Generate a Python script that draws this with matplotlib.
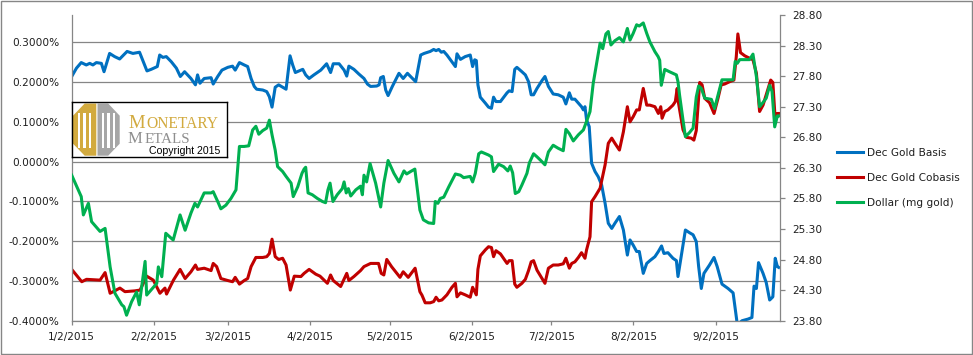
import numpy as np
import pandas as pd
import matplotlib
matplotlib.use('Agg')
import matplotlib.pyplot as plt
from matplotlib.patches import Polygon, Rectangle

# ── Data (day = day of year 2015) ────────────────────────────
basis_day = [2.0, 3.8, 5.6, 7.5, 8.8, 10.0, 11.3, 13.2, 14.2, 16.3, 18.2, 20.1, 22.9, 25.1,
             27.6, 30.4, 32.0, 34.3, 35.2, 36.4, 37.7, 39.6, 41.5, 43.0, 44.6, 47.0, 48.7,
             49.5, 50.4, 52.0, 54.6, 55.4, 57.1, 58.7, 60.9, 62.7, 63.7, 65.3, 67.1, 68.4,
             69.7, 70.9, 71.8, 74.1, 75.6, 76.6, 77.6, 78.8, 80.1, 81.6, 82.9, 84.4, 85.4,
             86.4, 89.2, 90.3, 91.6, 93.4, 96.0, 98.2, 99.7, 100.7, 102.9, 104.8, 105.8,
             106.6, 108.5, 110.4, 112.3, 113.6, 114.8, 117.1, 118.0, 118.6, 119.6, 120.5,
             121.4, 123.0, 125.5, 127.1, 128.7, 129.9, 131.8, 133.7, 135.0, 137.3, 138.6,
             139.5, 140.5, 141.5, 142.4, 143.6, 145.5, 146.8, 147.4, 148.7, 150.5, 152.4,
             153.3, 154.1, 154.7, 155.3, 156.2, 158.1, 159.3, 160.4, 161.2, 162.1, 163.8,
             166.3, 167.1, 168.2, 169.2, 170.0, 171.9, 173.2, 174.4, 175.4, 176.3, 177.6,
             179.5, 180.6, 181.9, 183.7, 185.6, 187.5, 188.5, 189.8, 190.7, 191.9, 193.2,
             194.4, 195.1, 195.7, 196.3, 197.3, 198.2, 199.5, 200.7, 202.0, 203.3, 204.5,
             205.8, 207.0, 208.7, 210.2, 211.7, 212.7, 213.9, 215.2, 216.2, 217.7, 219.0,
             220.2, 222.1, 223.4, 224.6, 225.5, 227.0, 228.9, 230.2, 230.8, 232.1, 233.6,
             235.2, 236.5, 237.7, 238.6, 239.6, 240.6, 242.7, 244.4, 245.6, 247.4, 249.7,
             251.6, 252.4, 253.2, 255.0, 257.2, 258.7, 259.5, 260.4, 261.2, 262.9, 264.1,
             265.4, 266.6, 267.5, 268.3, 268.8]
basis_pct = [0.214, 0.235, 0.249, 0.243, 0.247, 0.243, 0.249, 0.247, 0.226, 0.272, 0.264,
             0.258, 0.277, 0.272, 0.275, 0.228, 0.232, 0.239, 0.268, 0.262, 0.264, 0.251,
             0.235, 0.214, 0.226, 0.209, 0.193, 0.218, 0.197, 0.209, 0.211, 0.195, 0.214,
             0.230, 0.237, 0.240, 0.230, 0.249, 0.243, 0.239, 0.209, 0.189, 0.182, 0.180,
             0.176, 0.163, 0.137, 0.187, 0.193, 0.187, 0.182, 0.266, 0.243, 0.224, 0.232,
             0.218, 0.209, 0.218, 0.230, 0.246, 0.224, 0.246, 0.246, 0.230, 0.215, 0.240,
             0.232, 0.220, 0.209, 0.195, 0.189, 0.190, 0.193, 0.211, 0.214, 0.180, 0.166,
             0.189, 0.222, 0.209, 0.222, 0.214, 0.201, 0.268, 0.272, 0.277, 0.282, 0.279,
             0.282, 0.275, 0.277, 0.268, 0.251, 0.239, 0.271, 0.257, 0.264, 0.268, 0.239,
             0.256, 0.254, 0.193, 0.162, 0.147, 0.137, 0.134, 0.162, 0.151, 0.151, 0.173,
             0.178, 0.176, 0.232, 0.237, 0.226, 0.218, 0.201, 0.168, 0.168, 0.184, 0.204,
             0.214, 0.189, 0.170, 0.168, 0.162, 0.145, 0.173, 0.157, 0.157, 0.147, 0.138,
             0.130, 0.138, 0.105, 0.088, -0.004, -0.025, -0.038, -0.059, -0.105, -0.155,
             -0.168, -0.155, -0.138, -0.172, -0.235, -0.197, -0.210, -0.226, -0.226, -0.281,
             -0.256, -0.249, -0.239, -0.226, -0.212, -0.231, -0.229, -0.243, -0.249, -0.289,
             -0.235, -0.172, -0.179, -0.184, -0.201, -0.264, -0.319, -0.281, -0.260, -0.241,
             -0.264, -0.308, -0.319, -0.330, -0.369, -0.410, -0.400, -0.396, -0.392, -0.313,
             -0.319, -0.254, -0.281, -0.304, -0.348, -0.340, -0.243, -0.264, -0.266]

cobasis_day = [2.0, 5.8, 7.6, 12.7, 14.6, 16.5, 20.2, 22.1, 25.8, 27.8, 30.3, 32.8, 35.3,
               37.2, 37.8, 40.4, 42.9, 44.8, 47.0, 48.7, 49.5, 52.0, 54.6, 55.4, 56.7, 58.3,
               60.9, 62.7, 63.7, 65.3, 67.1, 68.4, 69.7, 71.5, 74.1, 75.6, 76.6, 77.6, 78.8,
               80.1, 81.6, 82.9, 84.5, 86.0, 88.5, 89.7, 91.6, 94.1, 95.7, 98.5, 99.7, 100.7,
               103.5, 105.8, 106.6, 108.5, 111.0, 112.3, 114.8, 117.8, 118.8, 119.8, 120.9,
               122.7, 125.9, 127.1, 129.0, 131.6, 133.4, 134.2, 135.4, 137.3, 138.6, 139.5,
               140.5, 141.7, 143.6, 145.5, 146.8, 147.4, 148.7, 150.5, 152.4, 153.3, 154.1,
               154.7, 155.3, 156.2, 158.1, 159.3, 160.4, 161.2, 162.1, 163.8, 166.3, 167.1,
               168.2, 169.2, 170.0, 171.9, 173.2, 174.4, 175.4, 176.3, 177.6, 179.5, 180.6,
               181.9, 183.7, 185.6, 187.5, 188.5, 189.8, 190.7, 191.9, 193.2, 194.4, 195.7,
               196.3, 197.6, 198.2, 199.5, 201.4, 203.3, 204.5, 205.8, 207.0, 208.7, 210.2,
               211.7, 212.7, 213.9, 215.2, 216.2, 217.7, 219.0, 220.2, 222.1, 223.4, 224.3,
               224.8, 225.8, 227.0, 228.9, 229.8, 230.5, 231.0, 232.7, 234.0, 235.8, 236.8,
               237.7, 239.0, 239.9, 240.9, 242.7, 244.4, 245.9, 247.1, 248.4, 250.3, 251.9,
               252.8, 253.4, 254.4, 256.0, 257.8, 259.1, 260.4, 261.6, 262.9, 264.1, 265.8,
               266.6, 267.5, 268.3, 268.8]
cobasis_pct = [-0.271, -0.302, -0.296, -0.298, -0.279, -0.331, -0.318, -0.327, -0.325,
               -0.323, -0.288, -0.298, -0.331, -0.318, -0.333, -0.298, -0.271, -0.294,
               -0.277, -0.260, -0.271, -0.268, -0.274, -0.256, -0.264, -0.294, -0.299,
               -0.302, -0.291, -0.308, -0.299, -0.294, -0.264, -0.241, -0.241, -0.239,
               -0.231, -0.195, -0.239, -0.246, -0.243, -0.260, -0.323, -0.288, -0.289,
               -0.281, -0.271, -0.283, -0.288, -0.306, -0.285, -0.299, -0.314, -0.281,
               -0.299, -0.289, -0.274, -0.264, -0.256, -0.256, -0.281, -0.285, -0.246,
               -0.264, -0.291, -0.277, -0.291, -0.268, -0.327, -0.336, -0.355, -0.355,
               -0.352, -0.341, -0.350, -0.348, -0.335, -0.316, -0.306, -0.340, -0.330,
               -0.335, -0.341, -0.316, -0.327, -0.335, -0.271, -0.237, -0.222, -0.214,
               -0.216, -0.239, -0.224, -0.232, -0.256, -0.249, -0.249, -0.308, -0.316,
               -0.306, -0.296, -0.274, -0.252, -0.249, -0.273, -0.294, -0.306, -0.268,
               -0.260, -0.260, -0.257, -0.243, -0.268, -0.256, -0.252, -0.241, -0.229,
               -0.243, -0.222, -0.189, -0.101, -0.088, -0.067, -0.008, 0.046, 0.059, 0.046,
               0.029, 0.075, 0.138, 0.100, 0.113, 0.130, 0.130, 0.184, 0.142, 0.142, 0.138,
               0.121, 0.138, 0.109, 0.126, 0.130, 0.142, 0.151, 0.184, 0.147, 0.080, 0.061,
               0.059, 0.054, 0.078, 0.199, 0.193, 0.159, 0.148, 0.121, 0.159, 0.193, 0.195,
               0.201, 0.205, 0.264, 0.321, 0.274, 0.266, 0.260, 0.256, 0.222, 0.126, 0.142,
               0.168, 0.205, 0.199, 0.105, 0.121, 0.121]

dollar_day = [2.0, 5.6, 6.4, 8.3, 9.5, 12.7, 14.6, 16.5, 18.3, 20.9, 21.7, 22.7, 24.6, 26.5,
              27.5, 29.7, 30.3, 34.1, 34.7, 36.0, 37.5, 40.3, 42.9, 44.8, 47.0, 48.5, 49.5,
              52.0, 54.6, 55.4, 57.1, 58.3, 60.2, 62.1, 64.0, 65.3, 67.1, 68.8, 70.3, 71.5,
              72.6, 74.1, 75.6, 76.6, 77.6, 78.8, 79.7, 81.6, 82.9, 84.8, 85.6, 87.3, 88.9,
              89.7, 90.3, 91.2, 92.8, 94.7, 96.6, 97.8, 98.7, 99.5, 100.6, 102.2, 104.1,
              104.8, 105.6, 106.4, 107.3, 109.2, 111.0, 111.7, 112.3, 113.3, 114.6, 116.7,
              118.6, 119.8, 121.4, 123.6, 125.5, 127.4, 128.4, 129.9, 131.5, 133.4, 134.7,
              136.7, 138.6, 139.2, 140.2, 141.1, 142.4, 144.3, 146.8, 148.7, 149.9, 152.4,
              153.3, 154.3, 155.6, 156.6, 159.3, 160.4, 161.2, 163.1, 165.0, 166.6, 167.5,
              168.4, 169.4, 170.7, 171.9, 173.8, 174.7, 176.3, 177.6, 179.5, 180.6, 181.9,
              183.7, 185.6, 187.5, 188.5, 189.8, 191.3, 193.2, 195.1, 196.3, 197.6, 198.8,
              200.1, 201.4, 202.4, 203.6, 204.5, 205.5, 207.0, 208.7, 210.2, 211.7, 212.7,
              213.9, 215.2, 216.2, 217.7, 219.0, 220.2, 222.1, 223.3, 223.9, 224.5, 225.8,
              227.7, 230.2, 230.8, 231.4, 232.7, 233.6, 235.2, 236.5, 237.7, 238.6, 239.6,
              240.9, 243.4, 244.6, 245.9, 247.4, 249.0, 251.6, 252.4, 253.2, 254.1, 257.8,
              259.1, 260.4, 261.6, 262.9, 264.1, 265.4, 266.3, 267.3, 268.3, 268.8]
dollar_mg = [26.18, 25.83, 25.53, 25.72, 25.42, 25.26, 25.31, 24.68, 24.25, 24.06, 24.03,
             23.89, 24.11, 24.27, 24.06, 24.77, 24.22, 24.41, 24.68, 24.52, 25.23, 25.12,
             25.53, 25.28, 25.56, 25.72, 25.66, 25.89, 25.89, 25.91, 25.75, 25.63, 25.69,
             25.80, 25.94, 26.65, 26.65, 26.66, 26.92, 26.98, 26.85, 26.91, 26.95, 27.08,
             26.84, 26.59, 26.32, 26.24, 26.16, 26.05, 25.83, 25.99, 26.21, 26.28, 26.31,
             25.89, 25.86, 25.80, 25.75, 25.73, 25.94, 26.05, 25.75, 25.86, 25.96, 26.07,
             25.89, 25.96, 25.84, 25.94, 26.00, 25.86, 26.18, 26.07, 26.37, 26.05, 25.66,
             26.05, 26.42, 26.21, 26.07, 26.25, 26.20, 26.24, 26.28, 25.61, 25.45, 25.40,
             25.39, 25.75, 25.72, 25.80, 25.82, 25.99, 26.20, 26.18, 26.14, 26.16, 26.07,
             26.21, 26.53, 26.56, 26.51, 26.48, 26.24, 26.36, 26.32, 26.25, 26.33, 26.22,
             25.88, 25.91, 26.02, 26.21, 26.38, 26.53, 26.48, 26.40, 26.35, 26.56, 26.67,
             26.62, 26.58, 26.93, 26.86, 26.74, 26.84, 26.92, 27.06, 27.22, 27.68, 28.01,
             28.34, 28.25, 28.49, 28.53, 28.31, 28.38, 28.43, 28.36, 28.58, 28.39, 28.50,
             28.64, 28.62, 28.67, 28.50, 28.36, 28.20, 28.12, 28.06, 27.65, 27.91, 27.87,
             27.82, 27.71, 27.49, 27.08, 26.81, 26.88, 26.95, 27.46, 27.64, 27.60, 27.44,
             27.42, 27.27, 27.49, 27.74, 27.74, 27.74, 28.04, 28.01, 28.07, 28.07, 28.16,
             27.79, 27.30, 27.37, 27.44, 27.65, 27.55, 26.97, 27.15, 27.15]

tick_days = [2, 33, 61, 92, 122, 153, 183, 214, 245]
left_ticks = [-0.4, -0.3, -0.2, -0.1, 0.0, 0.1, 0.2, 0.3]
right_ticks = [23.8, 24.3, 24.8, 25.3, 25.8, 26.3, 26.8, 27.3, 27.8, 28.3, 28.8]
series_names = ['Dec Gold Basis', 'Dec Gold Cobasis', 'Dollar (mg gold)']

BASE = pd.Timestamp('2015-01-01')


def to_dates(days):
    return BASE + pd.to_timedelta(np.asarray(days, dtype=float) - 1, unit='D')


GRID = '#868686'
TXT = '#1f1f1f'
FS = 7.6

# ── Figure ────────────────────────────────────────────────────
W, H = 973, 355
fig = plt.figure(figsize=(W / 100, H / 100), dpi=100)
fig.patches.append(Rectangle((0.5 / W, 1.5 / H), (W - 2) / W, (H - 2.5) / H,
                             transform=fig.transFigure, fill=False,
                             edgecolor=GRID, lw=1.0))

ax = fig.add_axes([71.7 / W, 34.3 / H, 708.3 / W, 305.7 / H])
ax2 = ax.twinx()

l1, = ax.plot(to_dates(basis_day), basis_pct, color='#0070C0', lw=2.2,
              solid_joinstyle='round')
l2, = ax.plot(to_dates(cobasis_day), cobasis_pct, color='#C00000', lw=2.2,
              solid_joinstyle='round')
l3, = ax2.plot(to_dates(dollar_day), dollar_mg, color='#00B050', lw=2.2,
               solid_joinstyle='round')

ax.set_xlim(to_dates([2.0])[0], to_dates([269.3])[0])
ax.set_ylim(-0.4, 0.3686)
ax2.set_ylim(23.8, 28.8)

ax.set_yticks(left_ticks)
ax.set_yticklabels([f"{v:.4f}%" if abs(v) > 1e-9 else "0.0000%" for v in left_ticks])
ax2.set_yticks(right_ticks)
ax2.set_yticklabels([f"{v:.2f}" for v in right_ticks])

tick_dates = to_dates(tick_days)
ax.set_xticks(tick_dates)
ax.set_xticklabels([f"{d.month}/{d.day}/{d.year}" for d in tick_dates])

ax.grid(axis='y', color=GRID, lw=0.9)
ax.set_axisbelow(True)

for a in (ax, ax2):
    a.spines['top'].set_visible(False)
    for s in a.spines.values():
        s.set_color(GRID)
        s.set_linewidth(0.9)
ax.spines['right'].set_visible(False)
ax2.spines['left'].set_visible(False)
ax2.spines['bottom'].set_visible(False)

ax.tick_params(axis='y', length=0, pad=9, labelsize=FS, labelcolor=TXT)
ax.tick_params(axis='x', direction='out', length=3, width=0.9, color=GRID,
               pad=5, labelsize=FS, labelcolor=TXT)
ax2.tick_params(axis='y', direction='out', length=3.6, width=0.9, color=GRID,
                pad=5.5, labelsize=FS, labelcolor=TXT)

fig.legend([l1, l2, l3], series_names, loc='upper left',
           bbox_to_anchor=(836.5 / W, 1 - 148 / H), frameon=False,
           borderpad=0, borderaxespad=0, handlelength=2.5, handletextpad=0.35,
           labelspacing=1.4, fontsize=FS, labelcolor=TXT)

# ── Logo box ──────────────────────────────────────────────────
lg = fig.add_axes([71.7 / W, 1 - 157.3 / H, 155 / W, 55.6 / H])
lg.set_xlim(0, 155)
lg.set_ylim(55.6, 0)
lg.set_xticks([])
lg.set_yticks([])
for s in lg.spines.values():
    s.set_color('black')
    s.set_linewidth(1.0)

GOLD = '#D2AA3E'
GREY = '#A6A6A6'
lg.add_patch(Polygon([(1.3, 14), (13, 1.8), (24.6, 1.8), (24.6, 54), (13, 54), (1.3, 42)],
                     closed=True, color=GOLD, lw=0))
lg.add_patch(Polygon([(25.8, 1.8), (36.5, 1.8), (48, 14), (48, 42), (36.5, 54), (25.8, 54)],
                     closed=True, color=GREY, lw=0))
for x0 in (6.0, 11.6, 17.2, 30.0, 35.6, 41.2):
    lg.add_patch(Rectangle((x0, 11), 2.3, 35, color='white', lw=0))

serif = 'Liberation Serif'
lg.text(56.3, 26.3, 'M', fontsize=13.5, family=serif, color=GOLD,
        va='baseline', ha='left')
lg.text(74.5, 26.3, 'ONETARY', fontsize=11.2, family=serif, color=GOLD,
        va='baseline', ha='left')
lg.text(56.3, 41.6, 'M', fontsize=12, family=serif, color='#8E8E8E',
        va='baseline', ha='left')
lg.text(73.0, 41.6, 'ETALS', fontsize=10.8, family=serif, color='#8E8E8E',
        va='baseline', ha='left')
lg.text(77.6, 52.6, 'Copyright 2015', fontsize=7.6, family='Liberation Sans',
        color='black', va='baseline', ha='left')

fig.savefig('out.png', dpi=100)
